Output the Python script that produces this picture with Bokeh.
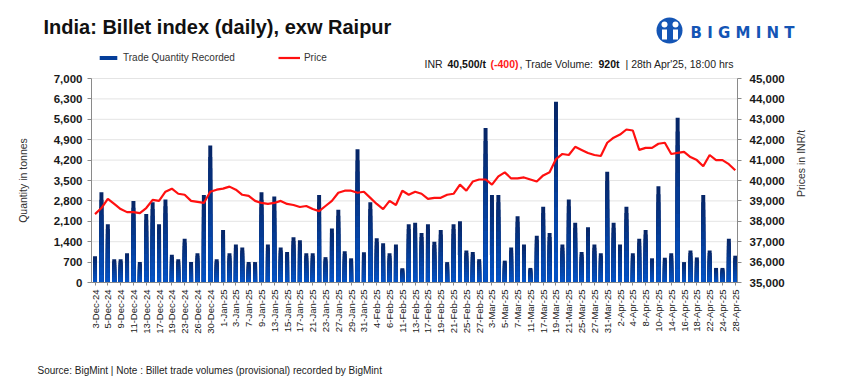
import math
from bokeh.plotting import figure
from bokeh.models import (Range1d, LinearAxis, FixedTicker, NumeralTickFormatter,
                          Legend, LegendItem, ColumnDataSource)
from bokeh.core.properties import value
from bokeh.embed import file_html
from bokeh.resources import INLINE

dates = ["3-Dec-24","4-Dec-24","5-Dec-24","6-Dec-24","9-Dec-24","10-Dec-24","11-Dec-24","12-Dec-24","13-Dec-24","16-Dec-24",
         "17-Dec-24","18-Dec-24","19-Dec-24","20-Dec-24","23-Dec-24","24-Dec-24","26-Dec-24","27-Dec-24","30-Dec-24","31-Dec-24",
         "1-Jan-25","2-Jan-25","3-Jan-25","6-Jan-25","7-Jan-25","8-Jan-25","9-Jan-25","10-Jan-25","13-Jan-25","14-Jan-25",
         "15-Jan-25","16-Jan-25","17-Jan-25","20-Jan-25","21-Jan-25","22-Jan-25","23-Jan-25","24-Jan-25","27-Jan-25","28-Jan-25",
         "29-Jan-25","30-Jan-25","31-Jan-25","3-Feb-25","4-Feb-25","5-Feb-25","6-Feb-25","7-Feb-25","11-Feb-25","12-Feb-25",
         "13-Feb-25","14-Feb-25","17-Feb-25","18-Feb-25","19-Feb-25","20-Feb-25","21-Feb-25","24-Feb-25","25-Feb-25","26-Feb-25",
         "27-Feb-25","28-Feb-25","3-Mar-25","4-Mar-25","5-Mar-25","6-Mar-25","7-Mar-25","10-Mar-25","11-Mar-25","12-Mar-25",
         "17-Mar-25","18-Mar-25","19-Mar-25","20-Mar-25","21-Mar-25","24-Mar-25","25-Mar-25","26-Mar-25","27-Mar-25","28-Mar-25",
         "31-Mar-25","1-Apr-25","2-Apr-25","3-Apr-25","4-Apr-25","7-Apr-25","8-Apr-25","9-Apr-25","10-Apr-25","11-Apr-25",
         "14-Apr-25","15-Apr-25","16-Apr-25","17-Apr-25","18-Apr-25","21-Apr-25","22-Apr-25","23-Apr-25","24-Apr-25","25-Apr-25",
         "28-Apr-25"]

qty = [900, 3100, 2000, 800, 800, 1000, 2800, 700, 2350, 2750,
       2000, 2850, 950, 800, 1500, 700, 1000, 3000, 4700, 800,
       1800, 1000, 1300, 1200, 700, 700, 3100, 1300, 2950, 1200,
       1050, 1550, 1450, 1000, 1000, 3000, 870, 1850, 2500, 1070,
       830, 4570, 1040, 2750, 1520, 1350, 1000, 1300, 490, 2000,
       2050, 1700, 2000, 1400, 1800, 700, 2000, 2100, 1100, 1050,
       800, 5300, 3000, 3000, 750, 1200, 2270, 1300, 500, 1600,
       2600, 1700, 6200, 1300, 2850, 2050, 1050, 1900, 1300, 1000,
       3800, 2050, 1300, 2600, 1000, 1500, 1800, 830, 3300, 850,
       1000, 5650, 700, 1100, 860, 3000, 1100, 500, 500, 1500, 920]

price = [38350, 38650, 39100, 38850, 38600, 38450, 38450, 38400, 38650, 39050,
         39000, 39450, 39600, 39350, 39300, 39000, 38950, 38900, 39450, 39550,
         39600, 39700, 39550, 39300, 39250, 39000, 38900, 38850, 38900, 39000,
         38850, 38800, 38700, 38750, 38600, 38500, 38750, 39000, 39400, 39500,
         39500, 39400, 39450, 39150, 38850, 38600, 39000, 38800, 39500, 39300,
         39450, 39350, 39100, 39150, 39150, 39300, 39350, 39800, 39500, 39950,
         40050, 40050, 39800, 40200, 40400, 40100, 40100, 40150, 40050, 39950,
         40250, 40400, 41050, 41300, 41250, 41650, 41500, 41350, 41250, 41200,
         41850, 42100, 42250, 42500, 42450, 41500, 41600, 41600, 41800, 41850,
         41300, 41350, 41400, 41150, 41000, 40700, 41250, 41000, 41000, 40800, 40500]

qty_ticks = list(range(0, 7001, 700))
price_ticks = list(range(35000, 45001, 1000))

title_text = "India: Billet index (daily), exw Raipur"
series_names = ["Trade Quantity Recorded", "Price"]
subtitle_parts = ["INR", "40,500/t", "(-400)", ", Trade Volume:", "920t", "| 28th Apr'25, 18:00 hrs"]
footer_text = "Source: BigMint | Note : Billet trade volumes (provisional) recorded by BigMint"
y_left_title = "Quantity in tonnes"
y_right_title = "Prices in INR/t"

FONT = "Liberation Sans"
BAR_TOP = (6, 38, 104)
BAR_BOT = (4, 82, 196)
RED = "#ff1010"
LOGO = "#1455b5"
AXIS_GREY = "#8a8a8a"

# canvas and plotting-area geometry (pixels)
CW, CH = 853, 388
PL, PR, PT, PB = 91, 737, 78, 282

idx = list(range(len(dates)))
X0, X1 = -0.55, len(dates) - 0.65
xpp = (X1 - X0) / (PR - PL)
qpp = (qty_ticks[-1] - qty_ticks[0]) / (PB - PT)
ppp = (price_ticks[-1] - price_ticks[0]) / (PB - PT)

p = figure(width=CW, height=CH, output_backend="svg", toolbar_location=None,
           x_range=Range1d(X0 - PL * xpp, X1 + (CW - PR) * xpp),
           y_range=Range1d(qty_ticks[0] - (CH - PB) * qpp, qty_ticks[-1] + PT * qpp),
           x_axis_type=None, y_axis_type=None, min_border=0)
p.extra_y_ranges = {"price": Range1d(price_ticks[0] - (CH - PB) * ppp, price_ticks[-1] + PT * ppp),
                    "py": Range1d(CH, 0)}
p.extra_x_ranges = {"px": Range1d(0, CW)}
p.outline_line_color = None
p.background_fill_color = "white"
p.border_fill_color = "white"

# horizontal grid lines at the quantity ticks
p.segment(x0=[X0] * len(qty_ticks), x1=[X1] * len(qty_ticks), y0=qty_ticks, y1=qty_ticks,
          line_color="#e4e4e4", line_width=1, level="underlay")

# bars with a vertical gradient (dark top -> bright blue bottom)
N = 12
bar_renderers = []
for k in range(N):
    frac = (N - k) / N
    t = k / (N - 1)
    c = tuple(int(round(BAR_TOP[j] + (BAR_BOT[j] - BAR_TOP[j]) * t)) for j in range(3))
    src = ColumnDataSource(dict(x=idx, top=[q * frac for q in qty]))
    bar_renderers.append(p.vbar(x="x", top="top", bottom=0, width=0.62, source=src,
                                fill_color="#%02x%02x%02x" % c, line_color=None))

pl = p.line(idx, price, y_range_name="price", line_color=RED, line_width=2.2)

# axes
yl = LinearAxis(ticker=FixedTicker(ticks=qty_ticks), formatter=NumeralTickFormatter(format="0,0"),
                fixed_location=X0, bounds=(qty_ticks[0], qty_ticks[-1]))
yr = LinearAxis(y_range_name="price", ticker=FixedTicker(ticks=price_ticks),
                formatter=NumeralTickFormatter(format="0,0"),
                fixed_location=X1, bounds=(price_ticks[0], price_ticks[-1]))
xa = LinearAxis(ticker=FixedTicker(ticks=idx[::2]), fixed_location=qty_ticks[0], bounds=(X0, X1))
p.add_layout(yl, "left")
p.add_layout(yr, "right")
p.add_layout(xa, "below")

for ax in (yl, yr):
    ax.major_label_text_font_style = "bold"
    ax.major_label_text_font_size = "11.5px"
    ax.major_label_text_color = "#1a1a1a"
    ax.major_tick_out = 4
yl.major_label_standoff = 5
yr.major_label_standoff = 8

xa.major_label_overrides = {i: dates[i] for i in idx[::2]}
xa.major_label_orientation = math.pi / 2
xa.major_label_text_font_size = "9.5px"
xa.major_label_text_color = "#222222"
xa.major_label_standoff = 4
xa.major_tick_out = 3

for ax in (yl, yr, xa):
    ax.axis_line_color = AXIS_GREY
    ax.major_tick_line_color = AXIS_GREY
    ax.major_tick_in = 0
    ax.minor_tick_line_color = None
    ax.major_label_text_font = FONT


def txt(x, y, text, size, bold=False, color="#111111", align="left", font=FONT, angle=0.0):
    p.text(x=[x], y=[y], text=[text], x_range_name="px", y_range_name="py",
           text_font=value(font), text_font_size=size,
           text_font_style="bold" if bold else "normal", text_color=color,
           text_align=align, text_baseline="middle", angle=angle)

# title
txt(43, 26, title_text, "20px", bold=True)

# subtitle line (mixed styles)
sub_x = [424, 447, 490, 519, 598, 625]
sub_style = [(False, "#222222"), (True, "#111111"), (True, "#ff1a1a"),
             (False, "#222222"), (True, "#111111"), (False, "#222222")]
for sx, part, (b, c) in zip(sub_x, subtitle_parts, sub_style):
    txt(sx, 63, part, "10.5px", bold=b, color=c)

# axis titles
txt(22, 180, y_left_title, "10.5px", color="#333333", align="center", angle=math.pi / 2)
txt(800, 163, y_right_title, "10.5px", color="#333333", align="center", angle=math.pi / 2)

# footer
txt(37, 370, footer_text, "10px", color="#222222")

# logo
p.circle(x=[669], y=[30], radius=13, x_range_name="px", y_range_name="py",
         fill_color=LOGO, line_color=None)
p.circle(x=[664, 675], y=[24, 24], radius=3, x_range_name="px", y_range_name="py",
         fill_color="white", line_color=None)
p.quad(left=[661.5, 672.5], right=[666.5, 677.5], top=[29, 29], bottom=[39, 39],
       x_range_name="px", y_range_name="py", fill_color="white", line_color=None)
txt(690, 32, "B I G M I N T", "15px", bold=True, color=LOGO, font="DejaVu Sans")

# legend
legend = Legend(items=[LegendItem(label=series_names[0], renderers=[bar_renderers[N // 2]]),
                       LegendItem(label=series_names[1], renderers=[pl])],
                orientation="horizontal", location=(97, CH - 63),
                glyph_width=22, glyph_height=5, label_standoff=4, spacing=43,
                padding=0, margin=0, border_line_color=None, background_fill_alpha=0,
                label_text_font=FONT, label_text_font_size="10px", label_text_color="#333333",
                label_height=12)
p.add_layout(legend, "center")

open("out.html", "w").write(file_html(p, INLINE))
